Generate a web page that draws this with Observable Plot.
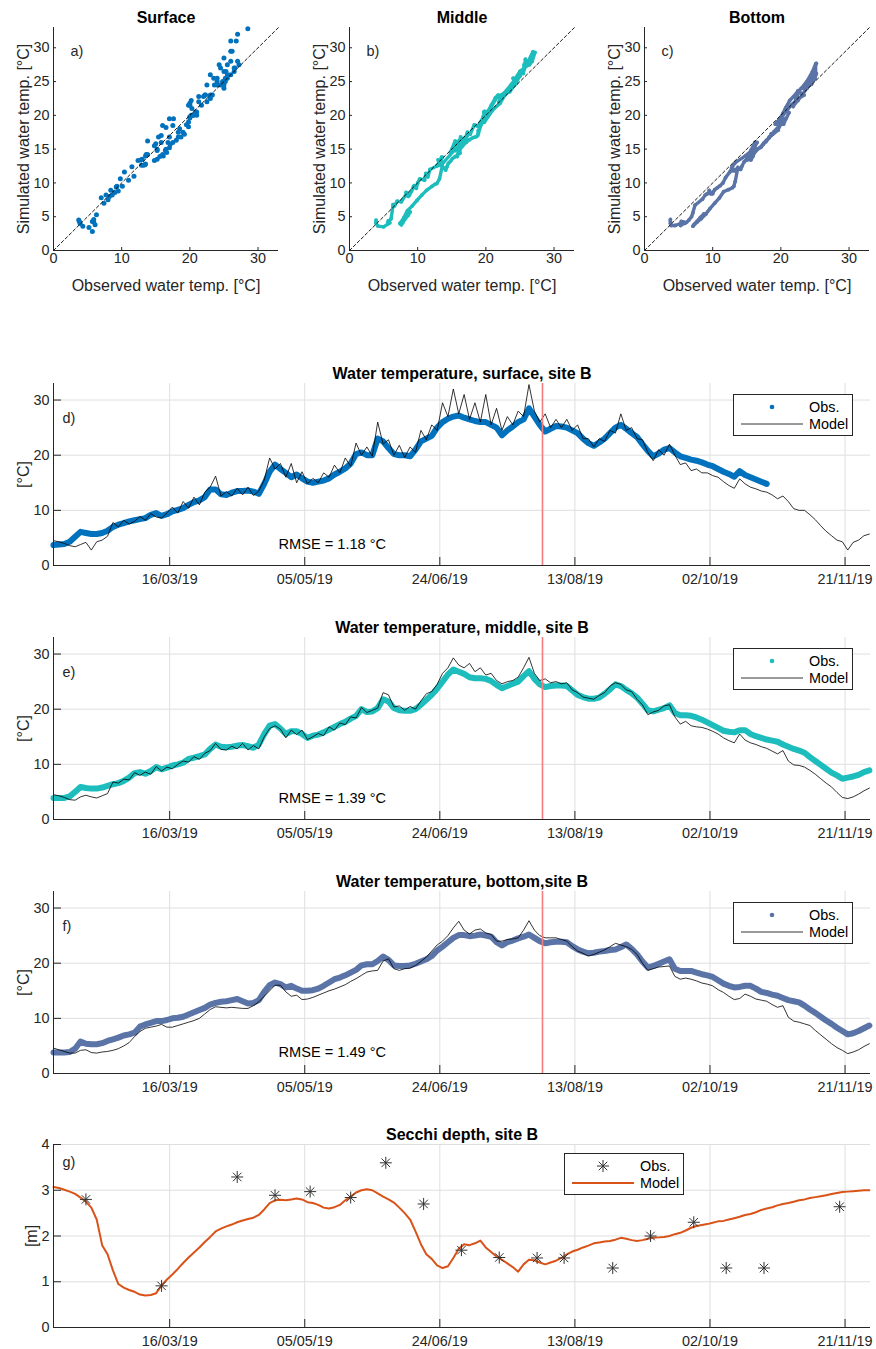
<!DOCTYPE html>
<html><head><meta charset="utf-8">
<script src="https://cdn.jsdelivr.net/npm/d3@7"></script>
<script src="https://cdn.jsdelivr.net/npm/@observablehq/plot@0.6"></script>
<style>
body{margin:0;background:#fff;font-family:"Liberation Sans",Arial,sans-serif;color:#262626}
#root{position:relative;width:876px;height:1349px;overflow:hidden;background:#fff}
#root svg{position:absolute}
</style></head><body><div id="root"></div>
<script>
// ---------- DATA ----------
// regular time grid: every 2 days starting 1 Feb 2019 (152 samples)
const startDate = "2019-02-01";
const stepDays = 2;

const surfaceObs = [
3.7,3.8,3.9,4.3,5.2,6.1,5.9,5.7,5.7,5.9,
6.3,7.0,7.4,7.7,8.0,8.2,8.4,8.6,9.2,9.5,
9.0,9.3,9.8,10.1,10.4,11.0,11.5,11.8,12.4,13.8,
13.8,12.9,12.8,13.2,13.5,13.5,13.6,13.4,13.0,14.8,
17.0,18.3,17.5,16.8,16.0,16.5,15.8,15.2,15.0,15.2,
15.4,15.8,16.5,17.0,17.6,18.5,20.2,20.5,20.0,20.0,
23.0,22.5,21.3,20.2,20.0,20.0,19.8,21.0,22.5,23.0,
23.5,25.0,26.0,26.6,27.0,27.2,26.8,26.5,26.2,26.0,
26.0,25.5,25.0,23.6,24.5,25.2,26.0,26.5,28.5,27.0,
25.5,24.3,24.8,25.3,25.2,25.0,24.5,24.0,23.0,22.2,
21.7,22.3,23.0,24.0,25.0,25.5,24.8,24.0,23.3,22.0,
20.8,19.8,20.3,21.0,21.3,20.5,19.8,19.5,19.2,19.0,
18.7,18.3,18.0,17.5,17.0,16.6,16.1,17.1,16.4,16.0,
15.6,15.2,14.8,null,null,null,null,null,null,null,
null,null,null,null,null,null,null,null,null,null,
null,null];
const surfaceModel = [
4.5,4.3,4.0,3.6,3.4,3.8,4.2,2.8,4.3,4.6,
5.3,7.8,7.0,8.2,7.5,8.0,8.9,8.2,9.4,8.8,
8.6,9.5,10.6,9.5,11.6,10.4,12.4,11.0,13.3,14.2,
16.2,12.6,13.4,12.6,14.0,12.8,14.2,12.7,13.5,15.5,
19.5,17.5,18.5,16.0,18.5,15.0,17.0,14.8,15.8,15.0,
16.8,16.0,18.2,16.8,19.5,18.0,22.2,20.0,21.5,19.8,
26.0,22.0,22.8,20.0,21.8,19.6,21.5,20.5,24.5,22.8,
25.5,24.5,29.5,27.0,32.0,27.5,31.0,26.5,29.5,26.0,
31.0,25.5,28.5,24.5,27.0,25.5,28.0,27.0,32.8,28.0,
26.0,27.5,25.0,26.5,25.0,26.5,24.5,25.5,23.0,23.0,
21.5,23.0,22.5,24.5,24.0,27.5,24.5,25.0,23.0,22.8,
20.5,19.0,21.0,20.0,22.0,20.0,18.3,18.6,17.2,17.5,
16.8,16.8,16.3,16.0,15.2,14.5,14.0,15.7,14.8,14.2,
13.9,13.5,13.3,12.8,12.1,12.6,11.6,10.3,10.0,10.0,
9.2,8.3,7.2,6.2,5.4,4.6,4.3,2.8,4.2,4.6,
5.4,5.7];

const middleObs = [
3.9,3.9,3.9,4.2,5.0,5.9,5.7,5.6,5.6,5.8,
6.1,6.4,6.6,7.0,7.6,8.4,8.6,8.3,8.8,9.5,
9.1,9.4,9.8,10.0,10.3,11.0,11.2,11.5,11.8,12.8,
13.6,13.2,13.1,13.2,13.4,13.5,13.3,13.0,13.6,15.5,
17.0,17.3,16.5,15.5,16.0,16.0,15.5,14.8,15.2,15.4,
15.8,16.3,16.8,17.3,17.7,18.3,18.8,20.0,19.5,19.6,
20.2,21.8,21.4,20.2,19.8,19.7,19.7,20.0,20.8,21.7,
22.6,23.7,25.0,26.3,27.2,26.8,26.4,25.8,25.6,25.6,
25.5,25.1,24.4,23.8,24.2,24.6,25.0,26.0,26.9,25.5,
24.5,24.0,24.2,24.3,24.3,24.2,23.4,22.6,22.2,21.9,
21.9,22.1,22.8,23.6,24.5,24.2,23.5,22.9,22.1,21.0,
19.8,19.6,19.9,20.2,20.7,19.3,18.9,18.9,18.8,18.5,
18.1,17.6,17.1,16.6,16.1,15.9,15.8,16.2,16.2,15.5,
15.1,14.8,14.5,14.3,14.1,13.6,13.2,12.8,12.5,12.1,
11.3,10.6,9.9,9.2,8.5,8.0,7.4,7.6,7.8,8.1,
8.6,8.9];
const middleModel = [
4.5,4.3,4.0,3.6,3.5,4.1,4.4,4.1,3.9,4.3,
4.7,6.8,6.6,7.3,7.2,8.5,8.0,8.6,8.2,9.6,
8.8,9.5,9.2,10.0,10.6,10.4,11.4,10.9,12.0,12.5,
13.8,12.7,12.6,13.3,12.8,13.8,12.6,13.4,12.8,15.0,
16.5,17.0,16.4,14.8,16.2,15.4,16.2,14.5,15.0,15.6,
15.2,16.8,16.2,17.5,17.2,18.6,18.4,20.3,19.4,19.8,
20.2,23.0,22.6,20.4,20.6,19.8,20.5,20.0,21.5,22.8,
23.2,24.5,26.5,27.5,29.3,28.0,27.5,28.3,26.8,27.5,
26.2,26.5,25.2,24.6,25.0,25.2,25.8,27.5,29.4,26.5,
25.2,25.5,24.8,25.0,24.6,24.8,23.5,23.0,22.2,22.0,
21.8,22.5,23.0,24.2,24.8,24.5,23.5,23.2,21.8,20.8,
19.0,19.5,19.8,20.6,20.8,18.6,17.3,17.8,17.0,16.8,
16.7,16.4,16.0,15.5,14.8,14.3,13.9,15.5,14.4,13.9,
13.6,13.2,12.9,12.4,11.9,12.5,10.6,9.9,9.8,9.5,
8.9,8.2,7.4,6.6,5.9,4.9,4.0,3.8,4.1,4.6,
5.2,5.7];

const bottomObs = [
3.8,3.8,3.8,3.9,4.5,5.8,5.4,5.3,5.3,5.5,
5.9,6.2,6.5,6.9,7.1,7.4,8.5,8.9,9.2,9.5,
9.5,9.7,10.0,10.1,10.3,10.7,11.1,11.5,11.9,12.5,
12.8,13.0,13.1,13.3,13.5,13.1,12.7,12.8,13.3,14.8,
16.0,16.5,16.2,15.6,15.9,15.4,15.0,15.0,15.1,15.4,
15.9,16.5,17.1,17.4,17.8,18.3,18.8,19.6,19.8,19.8,
20.4,21.2,20.6,19.6,19.5,19.5,19.6,19.9,20.3,20.7,
21.3,22.3,23.0,23.8,24.6,25.1,25.1,24.9,25.0,25.2,
25.0,24.8,23.8,23.2,23.8,24.1,24.5,24.8,25.2,24.6,
24.0,23.6,23.8,23.9,23.9,23.8,23.1,22.5,22.1,21.8,
21.9,22.1,22.2,22.4,22.5,22.9,23.4,22.6,21.6,20.3,
19.2,19.5,19.9,20.3,20.7,19.0,18.6,18.6,18.6,18.3,
18.0,17.8,17.5,16.9,16.3,15.9,15.6,15.7,15.9,15.9,
15.4,14.8,14.6,14.3,14.1,13.7,13.3,13.1,12.9,12.3,
11.6,11.0,10.3,9.6,9.0,8.3,7.7,7.1,7.3,7.7,
8.2,8.7];
const bottomModel = [
4.6,4.3,4.0,3.7,3.7,4.2,4.3,3.8,3.7,3.9,
4.0,4.2,4.5,5.0,5.6,6.7,7.6,8.2,8.4,8.6,
8.9,8.4,8.4,8.7,9.0,9.3,9.6,10.0,10.8,11.6,
12.1,12.0,11.9,12.0,11.9,11.8,11.8,12.3,13.0,14.0,
15.0,16.0,16.0,14.8,14.0,14.2,13.4,13.5,13.8,14.2,
14.6,15.0,15.3,15.7,16.1,16.7,17.2,17.8,18.4,18.6,
18.7,20.4,20.8,19.0,18.7,19.0,19.1,19.6,20.3,21.1,
22.2,23.3,24.0,25.0,26.4,27.6,26.0,25.3,26.0,26.2,
25.5,25.2,24.0,24.0,24.3,24.4,24.6,26.0,27.7,26.0,
25.0,24.6,24.6,24.6,24.3,24.0,23.0,22.2,21.8,21.3,
21.6,22.0,22.4,23.0,23.6,23.3,23.0,22.5,21.6,20.0,
18.7,19.0,19.3,19.4,19.5,17.6,17.1,17.3,17.1,16.8,
16.4,16.2,15.9,15.2,14.7,14.0,13.4,13.6,14.4,14.0,
13.5,13.3,13.1,12.5,12.0,12.3,10.2,9.5,9.3,9.0,
8.7,7.8,7.0,6.2,5.4,4.7,4.2,3.6,3.9,4.3,
4.9,5.4];

const secchiModel = [
3.07,3.05,3.01,2.97,2.92,2.84,2.75,2.62,2.36,1.80,
1.60,1.25,0.95,0.87,0.82,0.78,0.72,0.70,0.71,0.75,
0.92,1.05,1.16,1.28,1.41,1.53,1.64,1.75,1.87,1.98,
2.10,2.16,2.21,2.25,2.30,2.34,2.37,2.40,2.46,2.58,
2.72,2.78,2.79,2.78,2.80,2.82,2.80,2.74,2.72,2.68,
2.62,2.60,2.63,2.68,2.78,2.86,2.95,3.00,3.02,3.00,
2.93,2.86,2.80,2.73,2.62,2.50,2.36,2.10,1.82,1.60,
1.50,1.36,1.30,1.34,1.52,1.72,1.82,1.80,1.84,1.90,
1.75,1.65,1.55,1.48,1.40,1.32,1.22,1.38,1.48,1.47,
1.42,1.38,1.42,1.46,1.52,1.60,1.66,1.70,1.75,1.79,
1.84,1.86,1.88,1.89,1.92,1.96,1.94,1.91,1.89,1.91,
1.94,1.96,1.97,1.98,2.00,2.04,2.07,2.12,2.18,2.22,
2.24,2.26,2.29,2.32,2.33,2.36,2.39,2.42,2.46,2.48,
2.52,2.57,2.60,2.63,2.67,2.70,2.72,2.75,2.78,2.80,
2.83,2.85,2.87,2.89,2.92,2.94,2.96,2.97,2.98,2.99,
3.00,3.00];

const secchiObsDates = ["2019-02-13","2019-03-13","2019-04-10","2019-04-24","2019-05-07","2019-05-22",
  "2019-06-04","2019-06-18","2019-07-02","2019-07-16","2019-07-30","2019-08-09","2019-08-27",
  "2019-09-10","2019-09-26","2019-10-08","2019-10-22","2019-11-19"];
const secchiObs = [2.80,0.91,3.29,2.89,2.97,2.84,3.60,2.70,1.69,1.53,1.52,1.52,1.30,2.00,2.30,1.30,1.30,2.64];

const tsTickDates = ["2019-03-16","2019-05-05","2019-06-24","2019-08-13","2019-10-02","2019-11-21"];
const xDomain = ["2019-02-01","2019-11-30T10:00"];
const markerDate = "2019-08-01";
const tempTicks = [0,10,20,30];
const secchiTicks = [0,1,2,3,4];
const scatterXTicks = [0,10,20,30];
const scatterYTicks = [0,5,10,15,20,25,30];
const oneToOne = [0,33];

const rmseValues = ["1.18","1.39","1.49"];
const depthNames = ["Surface","Middle","Bottom"];
const tsTitles = ["Water temperature, surface, site B","Water temperature, middle, site B","Water temperature, bottom,site B","Secchi depth, site B"];
const legendLabels = ["Obs.","Model"];

// ---------- STYLE ----------
const FONT = '"Liberation Sans", Arial, Helvetica, sans-serif';
const INK = "#262626";
const GRID = "#dfdfdf";
const colors = {surface:"#0072BD", middle:"#1DBDBD", bottom:"#5B74A7", secchi:"#D95319", marker:"#F47E7E"};

const root = document.getElementById("root");
const t0 = new Date(startDate).getTime();
const dates = surfaceObs.map((_, i) => new Date(t0 + i * stepDays * 864e5));
const tickDates = tsTickDates.map(d => new Date(d));
const domain = xDomain.map(d => new Date(d));

function place(svg, left, top) {
  svg.style.left = left + "px";
  svg.style.top = top + "px";
  root.appendChild(svg);
}

const asterisk = {
  draw(ctx, size) {
    const r = Math.sqrt(size / Math.PI), d = r * Math.SQRT1_2;
    ctx.moveTo(-r, 0); ctx.lineTo(r, 0);
    ctx.moveTo(0, -r); ctx.lineTo(0, r);
    ctx.moveTo(-d, -d); ctx.lineTo(d, d);
    ctx.moveTo(-d, d); ctx.lineTo(d, -d);
  }
};

// ---------- SCATTER PANELS ----------
function scatterPanel(left, title, label, obs, model, color, trail) {
  const pts = obs.map((o, i) => ({o, m: model[i]})).filter(d => d.o != null);
  const W = 285, H = 295, mT = 27, mB = 45, mL = 53, mR = 7;
  const fw = W - mL - mR, fh = H - mT - mB;
  const dataMarks = trail
    ? [Plot.line(pts, {x: "o", y: "m", stroke: color, strokeWidth: 3.4, strokeLinejoin: "round", strokeLinecap: "round"}),
       Plot.dot(pts, {x: "o", y: "m", r: 1.9, fill: color})]
    : [Plot.dot(pts, {x: "o", y: "m", r: 2.5, fill: color})];
  const svg = Plot.plot({
    width: W, height: H, marginTop: mT, marginBottom: mB, marginLeft: mL, marginRight: mR,
    style: {fontFamily: FONT, fontSize: "14.4px", color: INK, background: "transparent", overflow: "visible"},
    x: {domain: [0, 33], ticks: scatterXTicks, tickSize: 0, tickPadding: 2, label: null},
    y: {domain: [0, 33], ticks: scatterYTicks, tickSize: 0, tickPadding: 4, label: null},
    marks: [
      ...dataMarks,
      Plot.line(oneToOne, {x: d => d, y: d => d, stroke: "#000", strokeWidth: 0.9, strokeDasharray: "3,2.5"}),
      Plot.ruleX([0], {stroke: INK}),
      Plot.ruleY([0], {stroke: INK}),
      Plot.tickX(scatterXTicks, {x: d => d, stroke: INK, insetTop: fh - 3}),
      Plot.tickY(scatterYTicks, {y: d => d, stroke: INK, insetRight: fw - 3}),
      Plot.text([title], {text: d => d, frameAnchor: "top", dy: -10, lineAnchor: "middle", textAnchor: "middle", fontWeight: "bold", fontSize: 16, fill: "#000"}),
      Plot.text([label], {text: d => d, frameAnchor: "top-left", dx: 17, dy: 23.5, lineAnchor: "middle", textAnchor: "start", fontSize: 14.4, fill: INK}),
      Plot.text(["Simulated water temp. [°C]"], {text: d => d, frameAnchor: "left", dx: -30, rotate: -90, lineAnchor: "middle", textAnchor: "middle", fontSize: 16, fill: INK}),
      Plot.text(["Observed water temp. [°C]"], {text: d => d, frameAnchor: "bottom", dy: 35, lineAnchor: "middle", textAnchor: "middle", fontSize: 16, fill: INK})
    ]
  });
  place(svg, left, 0);
}

scatterPanel(0, depthNames[0], "a)", surfaceObs, surfaceModel, colors.surface, false);
scatterPanel(296, depthNames[1], "b)", middleObs, middleModel, colors.middle, true);
scatterPanel(591, depthNames[2], "c)", bottomObs, bottomModel, colors.bottom, true);

// ---------- TIME-SERIES PANELS ----------
function tsPanel({frameTop, frameBottom, title, label, yDomain, yTicks, yLabel, yLabelDx, rmse, dataMarks, marker}) {
  const W = 876, mL = 53, mR = 6, mT = 30, mB = 30;
  const fh = frameBottom - frameTop, fw = W - mL - mR;
  const marks = [
    Plot.ruleX(tickDates, {x: d => d, stroke: GRID}),
    Plot.ruleY(yTicks.filter(t => t > 0), {y: d => d, stroke: GRID}),
    ...dataMarks,
    ...(marker ? [Plot.ruleX([new Date(markerDate)], {x: d => d, stroke: colors.marker, strokeWidth: 1.6})] : []),
    Plot.ruleY([0], {stroke: INK}),
    Plot.ruleX([domain[0]], {x: d => d, stroke: INK}),
    Plot.tickX(tickDates, {x: d => d, stroke: INK, insetTop: fh - 8}),
    Plot.tickY(yTicks, {y: d => d, stroke: INK, insetRight: fw - 8}),
    Plot.text([title], {text: d => d, frameAnchor: "top", dy: -10, lineAnchor: "middle", textAnchor: "middle", fontWeight: "bold", fontSize: 16, fill: "#000"}),
    Plot.text([label], {text: d => d, frameAnchor: "top-left", dx: 9, dy: label === "g)" ? 18 : 35, lineAnchor: "middle", textAnchor: "start", fontSize: 14.4, fill: INK}),
    Plot.text([yLabel], {text: d => d, frameAnchor: "left", dx: yLabelDx, rotate: -90, lineAnchor: "middle", textAnchor: "middle", fontSize: 16, fill: INK})
  ];
  if (rmse) marks.push(Plot.text([`RMSE = ${rmse} °C`], {text: d => d, frameAnchor: "bottom-left", dx: 225, dy: -21, lineAnchor: "middle", textAnchor: "start", fontSize: 14.6, fill: "#000"}));
  const svg = Plot.plot({
    width: W, height: fh + mT + mB, marginTop: mT, marginBottom: mB, marginLeft: mL, marginRight: mR,
    style: {fontFamily: FONT, fontSize: "14.4px", color: INK, background: "transparent", overflow: "visible"},
    x: {type: "utc", domain, ticks: tickDates, tickFormat: d3.utcFormat("%d/%m/%y"), tickSize: 0, tickPadding: 8, label: null},
    y: {domain: yDomain, ticks: yTicks, tickFormat: d3.format("d"), tickSize: 0, tickPadding: 4, label: null},
    marks
  });
  place(svg, 0, frameTop - mT);
}

function tempMarks(obs, model, color) {
  const rows = dates.map((date, i) => ({date, obs: obs[i], model: model[i]}));
  return [
    Plot.line(rows, {x: "date", y: "obs", stroke: color, strokeWidth: 6, strokeLinecap: "round", strokeLinejoin: "round"}),
    Plot.line(rows, {x: "date", y: "model", stroke: "#000", strokeWidth: 0.8})
  ];
}

tsPanel({frameTop: 383, frameBottom: 565, title: tsTitles[0], label: "d)", yDomain: [0, 33], yTicks: tempTicks,
  yLabel: "[°C]", yLabelDx: -30, rmse: rmseValues[0], marker: true, dataMarks: tempMarks(surfaceObs, surfaceModel, colors.surface)});
tsPanel({frameTop: 637, frameBottom: 819, title: tsTitles[1], label: "e)", yDomain: [0, 33], yTicks: tempTicks,
  yLabel: "[°C]", yLabelDx: -30, rmse: rmseValues[1], marker: true, dataMarks: tempMarks(middleObs, middleModel, colors.middle)});
tsPanel({frameTop: 891, frameBottom: 1073, title: tsTitles[2], label: "f)", yDomain: [0, 33], yTicks: tempTicks,
  yLabel: "[°C]", yLabelDx: -30, rmse: rmseValues[2], marker: true, dataMarks: tempMarks(bottomObs, bottomModel, colors.bottom)});

const secchiRows = dates.map((date, i) => ({date, model: secchiModel[i]}));
const secchiPts = secchiObsDates.map((d, i) => ({date: new Date(d), obs: secchiObs[i]}));
tsPanel({frameTop: 1144, frameBottom: 1327, title: tsTitles[3], label: "g)", yDomain: [0, 4], yTicks: secchiTicks,
  yLabel: "[m]", yLabelDx: -22, rmse: null, marker: false, dataMarks: [
    Plot.line(secchiRows, {x: "date", y: "model", stroke: colors.secchi, strokeWidth: 2}),
    Plot.dot(secchiPts, {x: "date", y: "obs", symbol: asterisk, r: 6, stroke: "#333", fill: "none", strokeWidth: 1})
  ]});

// ---------- LEGENDS ----------
function legend(left, top, kind, obsColor, modelColor, modelWidth) {
  const w = 120, h = 42;
  const svg = d3.create("svg").attr("width", w + 2).attr("height", h + 2)
    .style("left", (left - 1) + "px").style("top", (top - 1) + "px");
  svg.append("rect").attr("x", 1.5).attr("y", 1.5).attr("width", w - 1).attr("height", h - 1)
    .attr("fill", "#fff").attr("stroke", INK).attr("stroke-width", 1);
  if (kind === "dot") {
    svg.append("circle").attr("cx", 40).attr("cy", 14).attr("r", 2.3).attr("fill", obsColor);
  } else {
    const p = d3.path(); asterisk.draw(p, 36 * Math.PI);
    svg.append("path").attr("transform", "translate(40,14)").attr("d", p.toString())
      .attr("stroke", obsColor).attr("fill", "none").attr("stroke-width", 1);
  }
  svg.append("line").attr("x1", 9).attr("x2", 71).attr("y1", 31).attr("y2", 31)
    .attr("stroke", modelColor).attr("stroke-width", modelWidth);
  const t = svg.append("g").attr("font-family", FONT).attr("font-size", 14.4).attr("fill", "#000");
  t.append("text").attr("x", 77).attr("y", 14).attr("dy", "0.35em").text(legendLabels[0]);
  t.append("text").attr("x", 77).attr("y", 31).attr("dy", "0.35em").text(legendLabels[1]);
  root.appendChild(svg.node());
}
legend(733, 394, "dot", colors.surface, "#000", 0.8);
legend(733, 648, "dot", colors.middle, "#000", 0.8);
legend(733, 902, "dot", colors.bottom, "#000", 0.8);
legend(564, 1153, "star", "#333", colors.secchi, 2);
</script></body></html>
